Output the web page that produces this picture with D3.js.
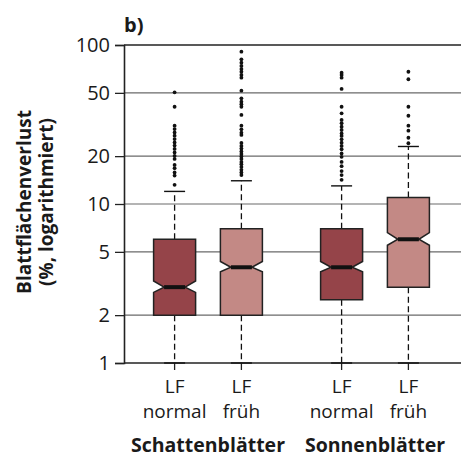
<!DOCTYPE html>
<html lang="de">
<head>
<meta charset="UTF-8">
<title>Blattflächenverlust</title>
<script src="https://d3js.org/d3.v7.min.js"></script>
<style>
  body { margin: 0; background: #fff; }
  svg text { font-family: "Open Sans", sans-serif; fill: #1a1a1a; }
</style>
</head>
<body>
<svg width="461" height="457"></svg>
<script>
  // data
  const groups = ["Schattenblätter", "Sonnenblätter"];
  const subs = ["normal", "früh"];
  const yTicks = [1, 2, 5, 10, 20, 50, 100];

  const q1 = [2, 2, 2.5, 3];
  const med = [3, 4, 4, 6];
  const q3 = [6, 7, 7, 11];
  const notchLo = [2.78, 3.75, 3.75, 5.5];
  const notchHi = [3.28, 4.35, 4.35, 6.6];
  const whiskLo = [1, 1, 1, 1];
  const whiskHi = [12, 14, 13, 23];
  const outliers = [
    [50.4, 40.9, 31.1, 29.6, 28.2, 26.9, 25.6, 24.4, 23.3, 22.2, 21.1, 20.1, 19.2, 17.6, 16.8, 15.8, 15.1, 13.2],
    [90.8, 81.3, 77.4, 73.8, 70.6, 67.9, 64.8, 62.3, 51.6, 46.2, 44.0, 42.4, 40.9, 36.3, 31.1, 29.5, 28.1, 27.2,
     24.2, 23.2, 22.3, 21.4, 20.6, 19.9, 19.2, 18.4, 17.8, 17.1, 16.4, 15.8, 15.2],
    [67, 64.8, 62.3, 52.9, 40.9, 37.2, 33.8, 32.2, 30.6, 29.2, 27.8, 26.8, 25.5, 24.3, 23.2, 22.1, 20.8,
     19.8, 18.4, 17.3, 16.1, 15.2, 14.2],
    [67.9, 60.9, 40.9, 35.9, 31.1, 28.9, 26.1, 24.1]
  ];
  const fills = ["#954449", "#c38985", "#954449", "#c38985"];

  const boxes = [];
  groups.forEach((g, gi) => subs.forEach((s, si) => {
    const i = gi * 2 + si;
    boxes.push({ g, s, i, q1: q1[i], med: med[i], q3: q3[i], nLo: notchLo[i], nHi: notchHi[i],
      wLo: whiskLo[i], wHi: whiskHi[i], out: outliers[i], fill: fills[i] });
  }));

  const plotL = 124, plotR = 461, plotT = 45, plotB = 363;
  const svg = d3.select("svg");

  const y = d3.scaleLog().domain([1, 100]).range([plotB, plotT]);
  const xg = d3.scaleBand().domain(groups).range([124.5, 458.5]);
  const xs = d3.scalePoint().domain(subs).range([0, xg.bandwidth()]).padding(0.75);
  const cx = d => xg(d.g) + xs(d.s);
  const boxW = 42, inset = boxW / 4, capW = 21;

  // grid lines
  svg.append("g").selectAll("line")
    .data(yTicks.filter(t => t > 1 && t < 100))
    .join("line")
    .attr("x1", plotL).attr("x2", plotR)
    .attr("y1", d => y(d)).attr("y2", d => y(d))
    .attr("stroke", "#6a6a6a").attr("stroke-width", 1.2);

  // frame top and bottom
  svg.append("g").selectAll("line")
    .data([1, 100])
    .join("line")
    .attr("x1", plotL).attr("x2", plotR)
    .attr("y1", d => y(d)).attr("y2", d => y(d))
    .attr("stroke", "#222").attr("stroke-width", 1.6);

  // y axis
  const yAxis = d3.axisLeft(y).tickValues(yTicks).tickFormat(d3.format("d")).tickSize(9).tickPadding(5);
  const ya = svg.append("g").attr("transform", `translate(${plotL},0)`).call(yAxis);
  ya.select(".domain").attr("stroke", "#222").attr("stroke-width", 1.6);
  ya.selectAll(".tick line").attr("stroke", "#222").attr("stroke-width", 1.3);
  ya.selectAll(".tick text").attr("font-size", 20).attr("font-family", "Open Sans").attr("fill", "#1a1a1a").attr("dy", "0.34em");

  // x ticks
  svg.append("g").selectAll("line")
    .data(boxes)
    .join("line")
    .attr("x1", cx).attr("x2", cx)
    .attr("y1", plotB).attr("y2", plotB + 7)
    .attr("stroke", "#222").attr("stroke-width", 1.3);

  const bx = svg.append("g").selectAll("g").data(boxes).join("g");

  // whiskers
  bx.append("line")
    .attr("x1", cx).attr("x2", cx)
    .attr("y1", d => y(d.q3)).attr("y2", d => y(d.wHi))
    .attr("stroke", "#111").attr("stroke-width", 1.3).attr("stroke-dasharray", "6,3.5");
  bx.append("line")
    .attr("x1", cx).attr("x2", cx)
    .attr("y1", d => y(d.q1)).attr("y2", d => y(d.wLo))
    .attr("stroke", "#111").attr("stroke-width", 1.3).attr("stroke-dasharray", "6,3.5");
  bx.selectAll(".cap")
    .data(d => [d.wLo, d.wHi].map(v => ({ v, d })))
    .join("line")
    .attr("class", "cap")
    .attr("x1", e => cx(e.d) - capW / 2).attr("x2", e => cx(e.d) + capW / 2)
    .attr("y1", e => y(e.v)).attr("y2", e => y(e.v))
    .attr("stroke", "#111").attr("stroke-width", 1.4);

  // notched boxes
  bx.append("path")
    .attr("d", d => {
      const x0 = cx(d) - boxW / 2, x1 = cx(d) + boxW / 2;
      const p = d3.path();
      p.moveTo(x0, y(d.q3));
      p.lineTo(x0, y(d.nHi));
      p.lineTo(x0 + inset, y(d.med));
      p.lineTo(x0, y(d.nLo));
      p.lineTo(x0, y(d.q1));
      p.lineTo(x1, y(d.q1));
      p.lineTo(x1, y(d.nLo));
      p.lineTo(x1 - inset, y(d.med));
      p.lineTo(x1, y(d.nHi));
      p.lineTo(x1, y(d.q3));
      p.closePath();
      return p.toString();
    })
    .attr("fill", d => d.fill)
    .attr("stroke", "#222").attr("stroke-width", 1.5);

  // medians
  bx.append("line")
    .attr("x1", d => cx(d) - boxW / 2 + inset).attr("x2", d => cx(d) + boxW / 2 - inset)
    .attr("y1", d => y(d.med)).attr("y2", d => y(d.med))
    .attr("stroke", "#111").attr("stroke-width", 4);

  // outliers
  bx.selectAll("circle")
    .data(d => d.out.map(v => ({ v, d })))
    .join("circle")
    .attr("cx", e => cx(e.d)).attr("cy", e => y(e.v))
    .attr("r", 1.9).attr("fill", "#111");

  // x labels
  const lab = svg.append("g").selectAll("text").data(boxes).join("text")
    .attr("text-anchor", "middle").attr("font-size", 19);
  lab.append("tspan").attr("x", cx).attr("y", 393).text("LF");
  lab.append("tspan").attr("x", cx).attr("y", 418).text(d => d.s);

  svg.append("g").selectAll("text").data(groups).join("text")
    .attr("x", d => xg(d) + xg.bandwidth() / 2).attr("y", 452)
    .attr("text-anchor", "middle").attr("font-size", 19.5).attr("font-weight", "bold")
    .text(d => d);

  // y title
  const yt = svg.append("text").attr("transform", "translate(0,202) rotate(-90)")
    .attr("text-anchor", "middle").attr("font-size", 19).attr("font-weight", "bold");
  yt.append("tspan").attr("x", 0).attr("y", 31).text("Blattflächenverlust");
  yt.append("tspan").attr("x", 0).attr("y", 53).text("(%, logarithmiert)");

  svg.append("text").attr("x", 124).attr("y", 32)
    .attr("font-size", 20).attr("font-weight", "bold").text("b)");
</script>
</body>
</html>
